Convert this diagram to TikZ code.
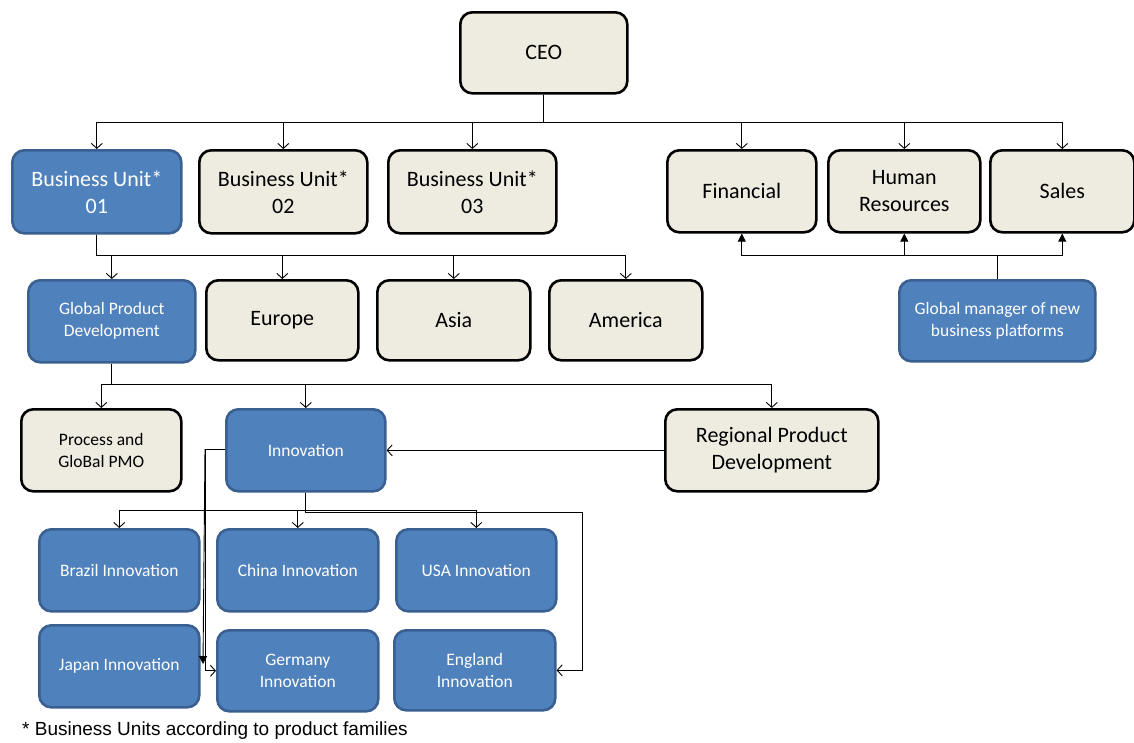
\documentclass[tikz,border=0pt]{standalone}
\usepackage{fontspec}
\setmainfont{Carlito}
\newfontfamily\notefont{Liberation Sans}
\usetikzlibrary{arrows.meta}
\definecolor{unitblue}{HTML}{4F81BD}
\definecolor{unitedge}{HTML}{3A6091}
\definecolor{tanfill}{HTML}{EEECE1}
\tikzset{
  box/.style={rectangle, rounded corners=12pt, line width=2.6pt, inner sep=2pt,
    align=center, anchor=north west},
  tanbox/.style={box, fill=tanfill, draw=black, text=black},
  bluebox/.style={box, fill=unitblue, draw=unitedge, text=white},
  big/.style={font=\fontsize{22}{27}\selectfont},
  small/.style={font=\fontsize{17.5}{22}\selectfont},
  link/.style={line width=0.9pt, -{Straight Barb[length=5pt,width=11pt,line width=0.9pt]}},
  solidtip/.style={line width=0.9pt, -{Triangle[length=8pt,width=8pt]}}
}
\begin{document}
\begin{tikzpicture}[x=1pt,y=-1pt]
\useasboundingbox (0,0) rectangle (1134,742);

% top level
\node[tanbox,big,minimum width=167pt,minimum height=81pt] (ceo) at (459,11) {CEO};

% business units and staff functions
\node[bluebox,big,minimum width=169pt,minimum height=83pt] (bu1) at (11,149) {Business Unit*\\01};
\node[tanbox,big,minimum width=168pt,minimum height=83pt] (bu2) at (198,149) {Business Unit*\\02};
\node[tanbox,big,minimum width=168pt,minimum height=83pt] (bu3) at (387,149) {Business Unit*\\03};
\node[tanbox,big,minimum width=149pt,minimum height=82pt] (fin) at (666,149) {Financial};
\node[tanbox,big,minimum width=152pt,minimum height=82pt] (hr) at (827,149) {Human\\Resources};
\node[tanbox,big,minimum width=144pt,minimum height=82pt] (sales) at (989,149) {Sales};

% regions of business unit 01
\node[bluebox,small,minimum width=167pt,minimum height=82pt] (gpd) at (27,279) {Global Product\\Development};
\node[tanbox,big,minimum width=152pt,minimum height=80pt] (eur) at (205,279) {Europe};
\node[tanbox,big,minimum width=153pt,minimum height=80pt] (asia) at (376,279) {Asia};
\node[tanbox,big,minimum width=153pt,minimum height=80pt] (amer) at (548,279) {America};
\node[bluebox,small,minimum width=196pt,minimum height=81pt] (gm) at (898,279) {Global manager of new\\business platforms};

% product development
\node[tanbox,small,minimum width=160pt,minimum height=82pt] (pmo) at (20,408) {Process and\\GloBal PMO};
\node[bluebox,small,minimum width=159pt,minimum height=82pt] (inno) at (225,408) {Innovation};
\node[tanbox,big,minimum width=213pt,minimum height=82pt] (rpd) at (664,408) {Regional Product\\Development};

% country innovation units
\node[bluebox,small,minimum width=160pt,minimum height=82pt] (bra) at (38,528) {Brazil Innovation};
\node[bluebox,small,minimum width=161pt,minimum height=82pt] (chn) at (216,528) {China Innovation};
\node[bluebox,small,minimum width=160pt,minimum height=82pt] (usa) at (395,528) {USA Innovation};
\node[bluebox,small,minimum width=160pt,minimum height=82pt] (jpn) at (38,624) {Japan Innovation};
\node[bluebox,small,minimum width=161pt,minimum height=81pt] (ger) at (216,629) {Germany\\Innovation};
\node[bluebox,small,minimum width=161pt,minimum height=80pt] (eng) at (393,629) {England\\Innovation};

% footnote
\node[anchor=west, font=\notefont\fontsize{19}{21}\selectfont, inner sep=0] (note) at (22,731)
  {* Business Units according to product families};

% CEO bus
\coordinate (busA) at (0,122);
\foreach \t in {bu1,bu2,bu3,fin,hr,sales}
  \draw[link] (ceo.south) -- (ceo.south |- busA) -| (\t.north);

% business unit 01 bus
\coordinate (busB) at (0,255);
\foreach \t in {gpd,eur,asia,amer}
  \draw[link] (bu1.south) -- (bu1.south |- busB) -| (\t.north);

% global manager feeding the staff functions
\foreach \t in {fin,hr,sales}
  \draw[solidtip] (gm.north) -- (gm.north |- busB) -| (\t.south);

% global product development bus
\coordinate (busC) at (0,384);
\foreach \t in {pmo,inno,rpd}
  \draw[link] (gpd.south) -- (gpd.south |- busC) -| (\t.north);

% regional product development reports to innovation
\draw[link] (rpd.west) -- (inno.east);

% innovation bus
\coordinate (busD) at (0,510);
\foreach \t in {bra,chn,usa}
  \draw[link] (inno.south) -- (inno.south |- busD) -| (\t.north);
\coordinate (engturn) at (582,512);
\draw[link] (inno.south) -- (inno.south |- engturn) -- (engturn) |- (eng.east);

% innovation side branch to japan and germany
\coordinate (side) at (205,449);
\draw[link] (inno.west |- side) -- (side) |- (ger.west);
\coordinate (jptip) at (203,664);
\draw[solidtip] (side) -- (jptip);
\end{tikzpicture}
\end{document}
